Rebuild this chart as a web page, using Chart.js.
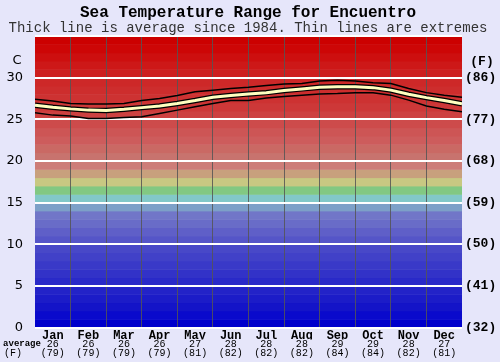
<!DOCTYPE html>
<html>
<head>
<meta charset="utf-8">
<script src="https://cdn.jsdelivr.net/npm/chart.js@4"></script>
<style>
  body { margin: 0; background: #E6E6FA; }
  canvas { display: block; }
</style>
</head>
<body>
<canvas id="seaChart" width="500" height="362"></canvas>
<script>
// Month labels and monthly averages (C and F) shown under the axis
const months = ['Jan', 'Feb', 'Mar', 'Apr', 'May', 'Jun', 'Jul', 'Aug', 'Sep', 'Oct', 'Nov', 'Dec'];
const avgC = [26, 26, 26, 26, 27, 28, 28, 28, 29, 29, 28, 27];
const avgF = [79, 79, 79, 79, 81, 82, 82, 82, 84, 84, 82, 81];

// Samples along the year (in months from 1 Jan)
const sampleMonth = [0, 0.5, 1, 1.5, 2, 2.5, 3, 3.5, 4, 4.5, 5, 5.5, 6, 6.5, 7, 7.5, 8, 8.5, 9, 9.5, 10, 10.5, 11, 11.5, 12];
const avgTemp = [26.7, 26.45, 26.25, 26.1, 26.05, 26.2, 26.4, 26.6, 26.9, 27.25, 27.65, 27.85, 28.05, 28.2, 28.45, 28.65, 28.85, 28.9, 28.9, 28.8, 28.5, 28.0, 27.6, 27.25, 26.85];
const maxTemp = [27.4, 27.2, 26.9, 26.85, 26.85, 26.9, 27.25, 27.5, 27.85, 28.3, 28.5, 28.7, 28.85, 29.05, 29.25, 29.3, 29.6, 29.7, 29.6, 29.4, 29.3, 28.7, 28.2, 27.9, 27.65];
const minTemp = [25.8, 25.5, 25.4, 25.1, 25.1, 25.2, 25.3, 25.7, 26.1, 26.5, 26.9, 27.25, 27.25, 27.55, 27.75, 27.9, 28.05, 28.1, 28.2, 28.2, 27.9, 27.3, 26.6, 26.2, 25.9];

// Axis tick labels
const yTicksC = [0, 5, 10, 15, 20, 25, 30];
const yTicksF = ['(32)', '(41)', '(50)', '(59)', '(68)', '(77)', '(86)'];

// Colour of each 1 degree band, from 0-1 C up to 34-35 C
const bandColors = [
  'rgb(0,0,204)', 'rgb(10,10,204)', 'rgb(20,20,200)', 'rgb(28,28,200)', 'rgb(35,35,200)',
  'rgb(42,42,200)', 'rgb(50,50,200)', 'rgb(57,57,200)', 'rgb(65,65,200)', 'rgb(72,72,200)',
  'rgb(85,85,200)', 'rgb(95,95,200)', 'rgb(105,108,200)', 'rgb(113,118,200)', 'rgb(125,160,200)',
  'rgb(130,200,200)', 'rgb(130,200,130)', 'rgb(200,200,130)', 'rgb(200,160,125)', 'rgb(205,125,120)',
  'rgb(200,115,110)', 'rgb(202,105,100)', 'rgb(205,92,92)', 'rgb(205,85,85)', 'rgb(205,75,75)',
  'rgb(205,65,65)', 'rgb(205,56,56)', 'rgb(205,50,50)', 'rgb(205,45,45)', 'rgb(205,40,40)',
  'rgb(205,30,30)', 'rgb(205,24,24)', 'rgb(205,15,15)', 'rgb(205,6,6)', 'rgb(204,0,0)'
];

const toPoints = (vals) => vals.map((v, i) => ({ x: sampleMonth[i], y: v }));

// Background colour bands and page texts
const decorPlugin = {
  id: 'decor',
  beforeDraw(chart) {
    const ctx = chart.ctx;
    const area = chart.chartArea;
    const y = chart.scales.y;
    ctx.save();
    ctx.fillStyle = '#E6E6FA';
    ctx.fillRect(0, 0, chart.width, chart.height);
    bandColors.forEach((c, i) => {
      const top = y.getPixelForValue(i + 1);
      const bottom = y.getPixelForValue(i);
      ctx.fillStyle = c;
      ctx.fillRect(area.left, top, area.right - area.left, bottom - top + 0.5);
    });
    ctx.restore();
  },
  afterDraw(chart) {
    const ctx = chart.ctx;
    ctx.save();
    ctx.fillStyle = '#000';
    ctx.textAlign = 'center';
    ctx.textBaseline = 'middle';
    ctx.font = 'bold 16px "Liberation Mono"';
    ctx.fillText('Sea Temperature Range for Encuentro', 248, 13);
    ctx.fillStyle = '#333';
    ctx.font = '14px "Liberation Mono"';
    ctx.fillText('Thick line is average since 1984. Thin lines are extremes', 248, 28);
    ctx.fillStyle = '#000';
    ctx.font = '13px "DejaVu Sans"';
    ctx.fillText('C', 17, 61);
    ctx.font = 'bold 13px "Liberation Mono"';
    ctx.fillText('(F)', 482, 62);
    ctx.font = 'bold 9px "Liberation Mono"';
    ctx.fillText('average', 22, 344);
    ctx.font = '10px "Liberation Mono"';
    ctx.fillText('(F)', 13, 353);
    ctx.restore();
  }
};

new Chart(document.getElementById('seaChart').getContext('2d'), {
  type: 'line',
  data: {
    datasets: [
      { data: toPoints(avgTemp), xAxisID: 'xd', borderColor: '#FFFFC0', borderWidth: 3 },
      { data: toPoints(avgTemp), xAxisID: 'xd', borderColor: '#000', borderWidth: 5.5 },
      { data: toPoints(maxTemp), xAxisID: 'xd', borderColor: '#000', borderWidth: 1.5 },
      { data: toPoints(minTemp), xAxisID: 'xd', borderColor: '#000', borderWidth: 1.5 }
    ]
  },
  options: {
    responsive: false,
    animation: false,
    devicePixelRatio: 1,
    layout: { padding: { top: 36, left: 0, right: 0, bottom: 0 } },
    elements: { point: { radius: 0 }, line: { tension: 0, fill: false } },
    plugins: { legend: { display: false }, tooltip: { enabled: false } },
    scales: {
      xd: {
        type: 'linear', position: 'bottom', min: 0, max: 12, weight: -1,
        ticks: { display: false, stepSize: 1 },
        border: { display: false },
        grid: {
          drawTicks: false,
          lineWidth: 1,
          color: (c) => (c.tick.value === 0 || c.tick.value === 12) ? 'rgba(0,0,0,0)' : 'rgba(85,85,85,0.85)'
        },
        afterFit: (s) => { s.height = 0; }
      },
      x: {
        type: 'category', position: 'bottom', labels: months, offset: true, weight: 0,
        grid: { display: false, drawTicks: false },
        border: { display: false },
        ticks: { color: '#000', font: { family: 'Liberation Mono', size: 12, weight: 'bold' }, padding: 1, maxRotation: 0, autoSkip: false },
        afterFit: (s) => { s.height = 12; }
      },
      xv: {
        type: 'category', position: 'bottom', labels: months, offset: true, weight: 1,
        grid: { display: false, drawTicks: false },
        border: { display: false },
        ticks: {
          color: '#000', font: { family: 'Liberation Mono', size: 10, lineHeight: 0.95 }, padding: 0,
          maxRotation: 0, autoSkip: false,
          callback: (v, i) => [String(avgC[i]), '(' + avgF[i] + ')']
        },
        afterFit: (s) => { s.height = 22.5; }
      },
      y: {
        type: 'linear', position: 'left', min: 0, max: 35,
        border: { display: false },
        grid: { color: '#FFFFFF', lineWidth: 2, drawTicks: false },
        ticks: {
          stepSize: 5, padding: 12, color: '#000',
          font: { family: 'DejaVu Sans', size: 13 },
          callback: (v) => yTicksC.includes(v) ? String(v) : ''
        },
        afterFit: (s) => { s.width = 35; }
      },
      y2: {
        type: 'linear', position: 'right', min: 0, max: 35,
        border: { display: false },
        grid: { display: false, drawTicks: false },
        ticks: {
          stepSize: 5, padding: 3, color: '#000',
          font: { family: 'Liberation Mono', size: 13, weight: 'bold' },
          callback: (v) => yTicksC.includes(v) ? yTicksF[yTicksC.indexOf(v)] : ''
        },
        afterFit: (s) => { s.width = 38; }
      }
    }
  },
  plugins: [decorPlugin]
});
</script>
</body>
</html>
